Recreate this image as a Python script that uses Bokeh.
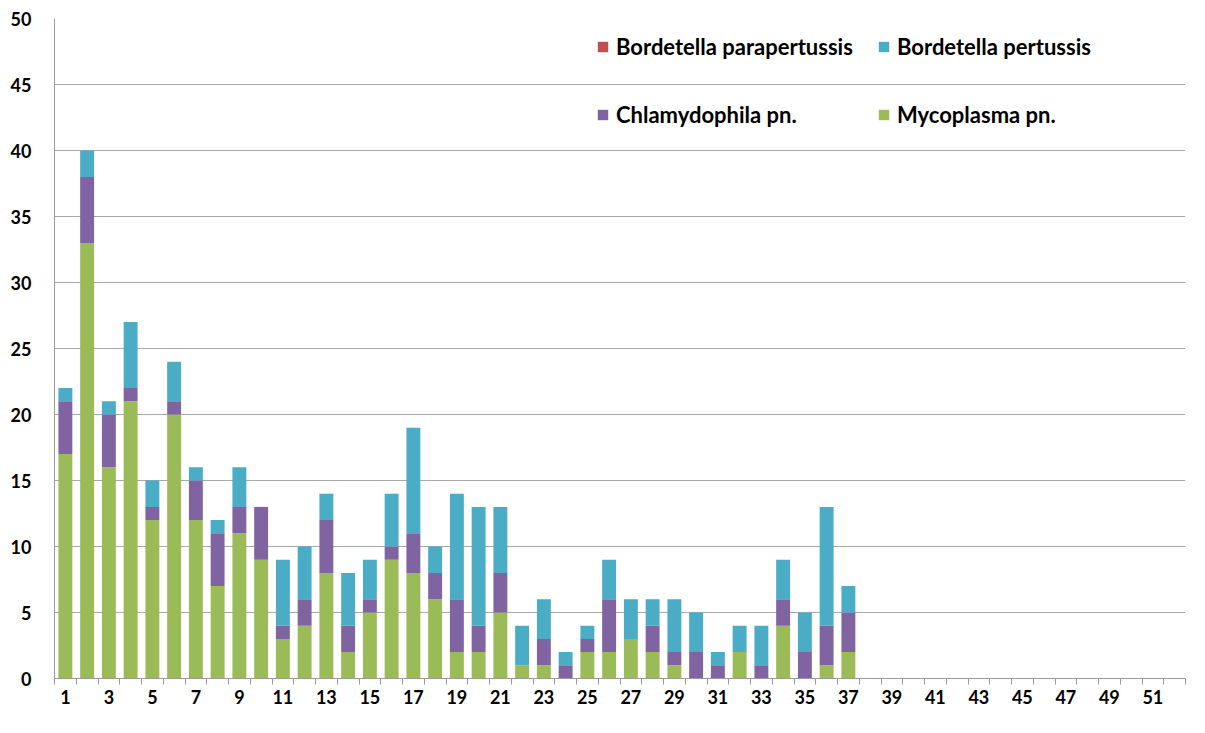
from bokeh.plotting import figure
from bokeh.models import (Range1d, FixedTicker, Legend, LegendItem, ColumnDataSource)
from bokeh.embed import file_html
from bokeh.resources import INLINE

weeks = list(range(1, 38))
mycoplasma = [17, 33, 16, 21, 12, 20, 12, 7, 11, 9, 3, 4, 8, 2, 5, 9, 8, 6, 2, 2, 5,
              1, 1, 0, 2, 2, 3, 2, 1, 0, 0, 2, 0, 4, 0, 1, 2]
chlamydophila = [4, 5, 4, 1, 1, 1, 3, 4, 2, 4, 1, 2, 4, 2, 1, 1, 3, 2, 4, 2, 3,
                 0, 2, 1, 1, 4, 0, 2, 1, 2, 1, 0, 1, 2, 2, 3, 3]
pertussis = [1, 2, 1, 5, 2, 3, 1, 1, 3, 0, 5, 4, 2, 4, 3, 4, 8, 2, 8, 9, 5,
             3, 3, 1, 1, 3, 3, 2, 4, 3, 1, 2, 3, 3, 3, 9, 2]
parapertussis = [0] * 37
series = ["Mycoplasma pn.", "Chlamydophila pn.", "Bordetella pertussis", "Bordetella parapertussis"]
colors = ["#9BBB59", "#8064A2", "#4BACC6", "#C0504D"]
y_ticks = list(range(0, 51, 5))
x_labels = list(range(1, 52, 2))

src = ColumnDataSource(dict(week=weeks, m=mycoplasma, c=chlamydophila,
                            p=pertussis, pp=parapertussis))

FONT = "Lato"
p = figure(width=1196, height=717, output_backend="svg", toolbar_location=None,
           x_range=Range1d(0.5, 52.5), y_range=Range1d(0, 50),
           min_border_left=54, min_border_top=18, min_border_bottom=39,
           min_border_right=11)
p.outline_line_color = None

rs = p.vbar_stack(["m", "c", "p", "pp"], x="week", width=0.64, source=src,
                  color=colors, line_color=None)

# axes
p.xaxis.ticker = FixedTicker(ticks=x_labels, minor_ticks=[i + 0.5 for i in range(0, 53)])
p.xaxis.major_tick_line_color = None
p.xaxis.minor_tick_line_color = "#9a9a9a"
p.xaxis.minor_tick_out = 6
p.xaxis.minor_tick_in = 0
p.xaxis.axis_line_color = "#9a9a9a"
p.xaxis.major_label_standoff = 5
p.yaxis.ticker = FixedTicker(ticks=y_ticks)
p.yaxis.major_tick_line_color = None
p.yaxis.minor_tick_line_color = None
p.yaxis.axis_line_color = "#9a9a9a"
p.yaxis.major_label_standoff = 17
for ax in (p.xaxis, p.yaxis):
    ax.major_label_text_font = FONT
    ax.major_label_text_font_style = "bold"
    ax.major_label_text_font_size = "18px"
    ax.major_label_text_color = "#000000"

p.xgrid.grid_line_color = None
p.ygrid.grid_line_color = "#a8a8a8"
p.ygrid.ticker = FixedTicker(ticks=y_ticks)

def make_legend(items, loc):
    lg = Legend(items=items, location=loc, orientation="horizontal",
                label_text_font=FONT, label_text_font_style="bold",
                label_text_font_size="22px", label_text_color="#000000",
                glyph_width=13, glyph_height=13, label_standoff=7,
                label_width=255, label_height=22, spacing=6, padding=0, margin=0,
                border_line_color=None, background_fill_alpha=0)
    return lg

lg1 = make_legend([LegendItem(label=series[3], renderers=[rs[3]]),
                   LegendItem(label=series[2], renderers=[rs[2]])], (542, 618))
lg2 = make_legend([LegendItem(label=series[1], renderers=[rs[1]]),
                   LegendItem(label=series[0], renderers=[rs[0]])], (542, 550))
p.add_layout(lg1)
p.add_layout(lg2)

open("out.html", "w").write(file_html(p, INLINE))
